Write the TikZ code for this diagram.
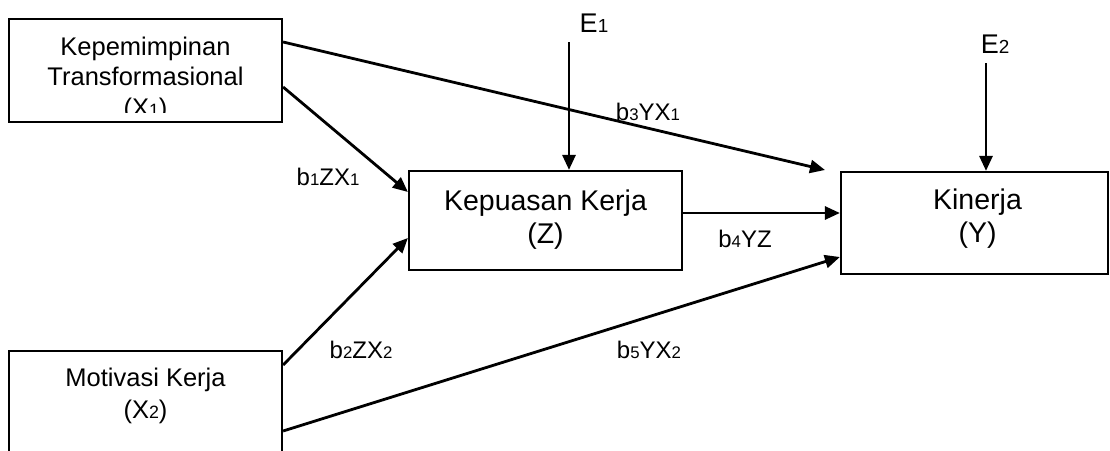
\documentclass[tikz,border=0pt]{standalone}
\usepackage{fontspec}
\setmainfont{Liberation Sans}
\usetikzlibrary{arrows.meta}
\newcommand{\sbs}[1]{\raisebox{-0.02em}{\scalebox{0.7}{#1}}}
\tikzset{
  box/.style={draw, line width=2.2pt, rectangle, inner sep=0pt},
  arr/.style={line width=2.8pt, -{Triangle[length=15pt,width=13pt]}},
  boxtxt/.style={anchor=base, inner sep=0pt, font=\fontsize{28.5}{30}\selectfont},
  smalltxt/.style={anchor=base, inner sep=0pt, font=\fontsize{25.5}{27}\selectfont},
  lbl/.style={anchor=base, inner sep=0pt, font=\fontsize{24}{26}\selectfont},
  etxt/.style={anchor=base, inner sep=0pt, font=\fontsize{27}{29}\selectfont}
}
\begin{document}
\begin{tikzpicture}[x=1pt,y=-1pt]
\clip (0,0) rectangle (1110,450);
\fill[white] (0,0) rectangle (1110,450);
% boxes
\node[box, minimum width=273pt, minimum height=103pt] (X1) at (145.5,70.5) {};
\node[box, minimum width=273pt, minimum height=119pt] (X2) at (145.5,410.5) {};
\node[box, minimum width=273pt, minimum height=99pt] (Z) at (545.5,220.5) {};
\node[box, minimum width=267pt, minimum height=102pt] (Y) at (974.5,223) {};
% box texts
\begin{scope}
\clip (10,20) rectangle (281,112);
\node[smalltxt] (x1a) at (145.5,55) {Kepemimpinan};
\node[smalltxt] (x1b) at (145.5,85) {Transformasional};
\node[smalltxt] (x1c) at (145.5,116) {(X\sbs{1})};
\end{scope}
\node[smalltxt] (x2a) at (145.5,386) {Motivasi Kerja};
\node[smalltxt] (x2b) at (145.5,418) {(X\sbs{2})};
\node[boxtxt] (za) at (545.5,210) {Kepuasan Kerja};
\node[boxtxt] (zb) at (545.5,243) {(Z)};
\node[boxtxt] (ya) at (977.5,209) {Kinerja};
\node[boxtxt] (yb) at (977.5,242) {(Y)};
% error terms
\node[etxt] (E1) at (594,32) {E\sbs{1}};
\node[etxt] (E2) at (995,53) {E\sbs{2}};
\coordinate (e1) at (569,42);
\coordinate (e2) at (986,63);
\coordinate (yt) at (825,170);
% connectors
\draw[arr] (e1) -- (e1 |- Z.north);
\draw[arr] (e2) -- (e2 |- Y.north);
\draw[arr] ([yshift=28.5pt]X1.east) -- (yt);
\draw[arr] ([yshift=-16.5pt]X1.east) -- ([yshift=28.5pt]Z.west);
\draw[arr] ([yshift=45.5pt]X2.east) -- ([yshift=-17.5pt]Z.west);
\draw[arr] ([yshift=-20.5pt]X2.east) -- ([yshift=-34pt]Y.west);
\draw[arr] ([yshift=7.5pt]Z.east) -- ([yshift=7.5pt]Z.east -| Y.west);
% path labels
\node[lbl] (b1) at (328,185) {b\sbs{1}ZX\sbs{1}};
\node[lbl] (b2) at (361,358) {b\sbs{2}ZX\sbs{2}};
\node[lbl] (b3) at (648,120) {b\sbs{3}YX\sbs{1}};
\node[lbl] (b4) at (745,247) {b\sbs{4}YZ};
\node[lbl] (b5) at (649,358) {b\sbs{5}YX\sbs{2}};
\end{tikzpicture}
\end{document}
